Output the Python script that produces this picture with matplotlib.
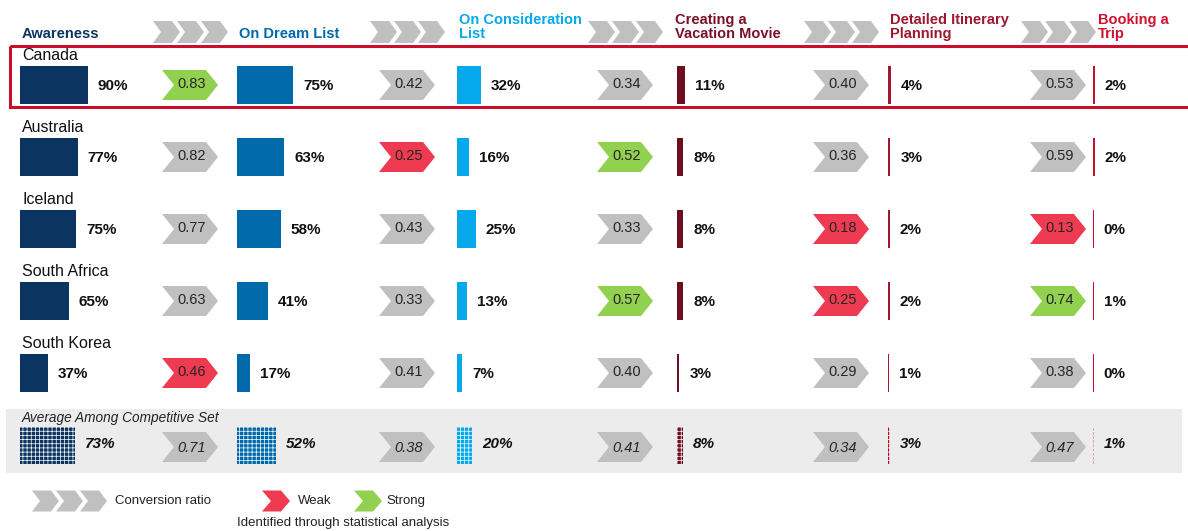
import numpy as np
import matplotlib
matplotlib.use("Agg")
import matplotlib.pyplot as plt
from matplotlib.patches import Polygon, Rectangle

plt.rcParams['font.family'] = ['Liberation Sans', 'DejaVu Sans']
plt.rcParams['hatch.linewidth'] = 0.5

# ---- data ----
countries = ["Canada", "Australia", "Iceland", "South Africa", "South Korea"]
stages = [["Awareness"], ["On Dream List"], ["On Consideration", "List"],
          ["Creating a", "Vacation Movie"], ["Detailed Itinerary", "Planning"],
          ["Booking a", "Trip"]]

awareness = [90, 77, 75, 65, 37]
dream_list = [75, 63, 58, 41, 17]
consideration = [32, 16, 25, 13, 7]
vacation_movie = [11, 8, 8, 8, 3]
itinerary = [4, 3, 2, 2, 1]
booking = [2, 2, 0, 1, 0]

avg_label = "Average Among Competitive Set"
avg_values = [73, 52, 20, 8, 3, 1]
avg_ratios = [0.71, 0.38, 0.41, 0.34, 0.47]

# conversion ratios between consecutive stages (one list per step)
ratio_aw_dream = [0.83, 0.82, 0.77, 0.63, 0.46]
ratio_dream_cons = [0.42, 0.25, 0.43, 0.33, 0.41]
ratio_cons_movie = [0.34, 0.52, 0.33, 0.57, 0.40]
ratio_movie_itin = [0.40, 0.36, 0.18, 0.25, 0.29]
ratio_itin_book = [0.53, 0.59, 0.13, 0.74, 0.38]

# s = strong, w = weak, "" = neutral
flag_aw_dream = ["s", "", "", "", "w"]
flag_dream_cons = ["", "w", "", "", ""]
flag_cons_movie = ["", "s", "", "s", ""]
flag_movie_itin = ["", "", "w", "w", ""]
flag_itin_book = ["", "", "w", "s", ""]

stage_values = [awareness, dream_list, consideration, vacation_movie, itinerary, booking]
ratios = [ratio_aw_dream, ratio_dream_cons, ratio_cons_movie, ratio_movie_itin, ratio_itin_book]
flags = [flag_aw_dream, flag_dream_cons, flag_cons_movie, flag_movie_itin, flag_itin_book]

# ---- layout / style ----
PX = 0.75  # pixels per percent point
row_y = [85, 157, 229, 301, 373]
avg_y = 445
bar_left = [20, 237, 457, 677, 888, 1093]
chev_left = [162, 379, 597, 813, 1030]
header_x = [22, 239, 459, 675, 890, 1098]
bar_colors = ['#0b3461', '#0069aa', '#05a9ec', '#6e0e1e', '#a3162f', '#c8102e']
header_colors = ['#0b3461', '#0069aa', '#05a9ec', '#7b1128', '#9c1730', '#d0102e']
GRAY = '#c0c0c0'
GREEN = '#92d050'
RED = '#ee3b51'
flag_color = {"": GRAY, "s": GREEN, "w": RED}


def chevron(ax, x, yc, w, h, notch, color, z=2):
    pts = [(x, yc - h / 2), (x + w - notch, yc - h / 2), (x + w, yc),
           (x + w - notch, yc + h / 2), (x, yc + h / 2), (x + notch, yc)]
    ax.add_patch(Polygon(pts, closed=True, facecolor=color, edgecolor='none', zorder=z))


def chevron_group(ax, x, yc, h=22):
    # three nested gray chevrons with a small white gap between them
    for k in range(3):
        chevron(ax, x + k * 24, yc, 27, h, 8, GRAY)


fig = plt.figure(figsize=(11.88, 5.31), dpi=100)
ax = fig.add_axes([0, 0, 1, 1])
ax.set_xlim(0, 1188)
ax.set_ylim(531, 0)
ax.axis('off')

# background band for average row and red highlight box for Canada
ax.add_patch(Rectangle((6, 409), 1176, 64, facecolor='#ececec', edgecolor='none', zorder=0))
ax.add_patch(Rectangle((10, 46), 1180, 61, facecolor='none', edgecolor='#c8102e',
                       lw=2.2, zorder=5))

# headers
for j, lines in enumerate(stages):
    base = 38 - 14 * (len(lines) - 1)
    for k, line in enumerate(lines):
        ax.text(header_x[j], base + 14 * k, line, fontsize=10.5, fontweight='bold',
                color=header_colors[j], va='baseline', ha='left')
for cx in chev_left:
    chevron_group(ax, cx - 9, 32)

# country rows
for i, name in enumerate(countries):
    ax.text(22, row_y[i] - 29, name, fontsize=11.5, va='center', ha='left', color='#111111')

for j, vals in enumerate(stage_values):
    vals = np.array(vals, dtype=float)
    widths = np.maximum(vals * PX, 0.6)
    ax.barh(row_y, widths, left=bar_left[j], height=38, color=bar_colors[j],
            edgecolor='none', zorder=2)
    for i, v in enumerate(vals):
        ax.text(bar_left[j] + widths[i] + 10, row_y[i] + 1, f"{v:.0f}%", fontsize=11,
                fontweight='bold', va='center', ha='left', color='#111111')

for j, rs in enumerate(ratios):
    for i, r in enumerate(rs):
        chevron(ax, chev_left[j], row_y[i], 56, 30, 12, flag_color[flags[j][i]])
        ax.text(chev_left[j] + 30, row_y[i] - 1, f"{r:.2f}", fontsize=10.5,
                va='center', ha='center', color='#262626', zorder=3)

# average row (dotted bars)
ax.text(22, 418, avg_label, fontsize=9.8, style='italic', va='center', ha='left',
        color='#222222')
for j, v in enumerate(avg_values):
    w = max(v * PX, 0.6)
    ax.barh([avg_y], [w], left=bar_left[j], height=37, color=bar_colors[j],
            edgecolor='white', hatch='++++', lw=0, zorder=2)
    ax.text(bar_left[j] + w + 10, avg_y - 1, f"{v}%", fontsize=11, fontweight='bold',
            style='italic', va='center', ha='left', color='#111111')
for j, r in enumerate(avg_ratios):
    chevron(ax, chev_left[j], avg_y + 2, 56, 30, 12, GRAY)
    ax.text(chev_left[j] + 30, avg_y + 3, f"{r:.2f}", fontsize=10.5, style='italic',
            va='center', ha='center', color='#262626', zorder=3)

# legend
chevron_group(ax, 32, 501, h=21)
ax.text(115, 501, "Conversion ratio", fontsize=9.5, va='center', ha='left', color='#222222')
chevron(ax, 262, 501, 28, 21, 9, RED)
ax.text(298, 501, "Weak", fontsize=9.5, va='center', ha='left', color='#222222')
chevron(ax, 354, 501, 28, 21, 9, GREEN)
ax.text(386, 501, "Strong", fontsize=9.5, va='center', ha='left', color='#222222')
ax.text(237, 523, "Identified through statistical analysis", fontsize=9.5,
        va='center', ha='left', color='#222222')

fig.savefig("out.png", dpi=100)
